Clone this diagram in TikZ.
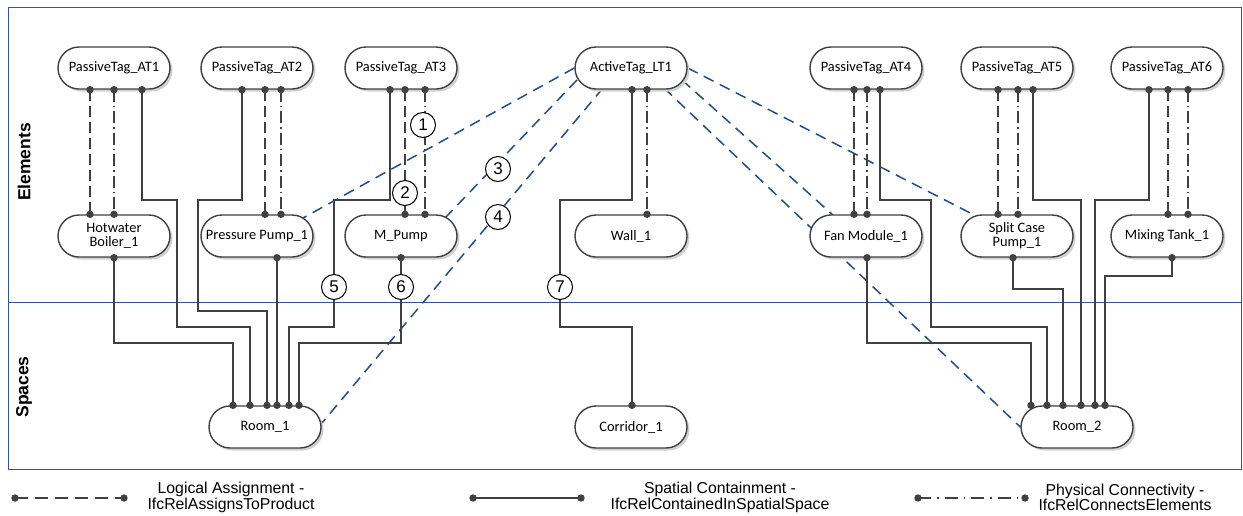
\documentclass[tikz,border=0pt]{standalone}
\usepackage{fontspec}
\setmainfont{Carlito}
\newfontfamily\arialf{Liberation Sans}
\usetikzlibrary{shapes.misc,shadows,calc}
\definecolor{frameblue}{RGB}{47,85,151}
\definecolor{linkblue}{RGB}{31,78,140}
\definecolor{lg}{RGB}{64,64,64}
\pgfdeclarelayer{bg}
\pgfsetlayers{bg,main}
\tikzset{
 elem/.style={rounded rectangle, draw=lg, line width=1.4pt, fill=white,
   minimum width=112pt, minimum height=42pt, inner sep=0pt, align=center,
   font=\fontsize{14.4}{14.2}\selectfont,
   drop shadow={shadow xshift=2.5pt, shadow yshift=-2.5pt, fill=black!18, opacity=1}},
 num/.style={circle, draw=black, line width=1pt, fill=white, minimum size=25pt,
   inner sep=0pt, font=\arialf\fontsize{17}{17}\selectfont},
 contain/.style={draw=lg, line width=1.7pt},
 assign/.style={draw=lg, line width=1.7pt, dash pattern=on 11pt off 5pt},
 connect/.style={draw=lg, line width=1.7pt, dash pattern=on 12pt off 4pt on 1.5pt off 4pt},
 logical/.style={draw=linkblue, line width=1.5pt, dash pattern=on 11pt off 7pt},
 lgtext/.style={font=\arialf\fontsize{15.8}{15.5}\selectfont, align=center},
 side/.style={font=\arialf\bfseries\fontsize{17.5}{18}\selectfont, rotate=90},
 framel/.style={draw=frameblue, line width=1pt},
}
\newcommand\wire[4]{\draw[#1] (#2) #3 (#4); \fill[lg] (#2) circle (3.7pt) (#4) circle (3.7pt);}
\begin{document}
\begin{tikzpicture}[x=1pt,y=-1pt]
\useasboundingbox (0,0) rectangle (1243,515);
% nodes
\node[elem] (AT1) at (114,68) {PassiveTag\_AT1};
\node[elem] (AT2) at (257,68) {PassiveTag\_AT2};
\node[elem] (AT3) at (401,68) {PassiveTag\_AT3};
\node[elem] (LT1) at (631,68) {ActiveTag\_LT1};
\node[elem] (AT4) at (866,68) {PassiveTag\_AT4};
\node[elem] (AT5) at (1017,68) {PassiveTag\_AT5};
\node[elem] (AT6) at (1167,68) {PassiveTag\_AT6};
\node[elem] (HB) at (114,236) {Hotwater\\Boiler\_1};
\node[elem] (PP1) at (257,236) {Pressure Pump\_1};
\node[elem] (MP) at (401,236) {M\_Pump};
\node[elem] (WL) at (631,236) {Wall\_1};
\node[elem] (FM) at (866,236) {Fan Module\_1};
\node[elem] (SCP) at (1017,236) {Split Case\\Pump\_1};
\node[elem] (MT) at (1167,236) {Mixing Tank\_1};
\node[elem] (R1) at (265,427) {Room\_1};
\node[elem] (CR) at (631,427) {Corridor\_1};
\node[elem] (R2) at (1077,427) {Room\_2};
\node[side] (EL) at (24,162) {Elements};
\node[side] (SP) at (24,387) {Spaces};
% frame and logical links behind nodes
\begin{pgfonlayer}{bg}
\draw[framel] (8,7) rectangle (1241,469);
\coordinate (DL) at (8,302);
\coordinate (DR) at (1241,302);
\draw[framel] (DL) -- (DR);
\draw[logical] (LT1.west) -- ($(PP1.center)+(46,-18)$);
\draw[logical] ($(LT1.center)+(-54,12)$) -- ($(MP.center)+(44,-18)$);
\draw[logical] ($(LT1.center)+(-28,20)$) -- ($(R1.center)+(57,-4)$);
\draw[logical] (LT1.east) -- ($(SCP.center)+(-39,-19)$);
\draw[logical] ($(LT1.center)+(51,12)$) -- ($(FM.center)+(-33,-21)$);
\draw[logical] ($(LT1.center)+(33,20)$) -- (R2.west);
\end{pgfonlayer}
% AT1 / Boiler
\wire{assign}{[xshift=-24pt]AT1.south}{--}{[xshift=-24pt]HB.north}
\wire{connect}{AT1.south}{--}{HB.north}
\wire{contain}{[xshift=28pt]AT1.south}{|- (177,200) |- (250,327) --}{[xshift=-15pt]R1.north}
\wire{contain}{HB.south}{|- (233,343) --}{[xshift=-32pt]R1.north}
% AT2 / Pressure pump
\wire{assign}{[xshift=8pt]AT2.south}{--}{[xshift=8pt]PP1.north}
\wire{connect}{[xshift=24pt]AT2.south}{--}{[xshift=24pt]PP1.north}
\wire{contain}{[xshift=-15pt]AT2.south}{|- (198,200) |- (267,311) --}{[xshift=2pt]R1.north}
\wire{contain}{[xshift=20pt]PP1.south}{--}{[xshift=12pt]R1.north}
% AT3 / M_Pump
\wire{assign}{[xshift=4pt]AT3.south}{--}{[xshift=4pt]MP.north}
\wire{connect}{[xshift=24pt]AT3.south}{--}{[xshift=24pt]MP.north}
\wire{contain}{[xshift=-11pt]AT3.south}{|- (334,200) |- (289,327) --}{[xshift=24pt]R1.north}
\wire{contain}{MP.south}{|- (299,343) --}{[xshift=34pt]R1.north}
% LT1 / Wall / Corridor
\wire{connect}{[xshift=16pt]LT1.south}{--}{[xshift=16pt]WL.north}
\wire{contain}{[xshift=1pt]LT1.south}{|- (560,200) |- (632,327) --}{[xshift=1pt]CR.north}
% AT4 / Fan module
\wire{assign}{[xshift=-12pt]AT4.south}{--}{[xshift=-12pt]FM.north}
\wire{connect}{[xshift=1pt]AT4.south}{--}{[xshift=1pt]FM.north}
\wire{contain}{[xshift=14pt]AT4.south}{|- (931,200) |- (1047,327) --}{[xshift=-30pt]R2.north}
\wire{contain}{[xshift=1pt]FM.south}{|- (1031,343) --}{[xshift=-46pt]R2.north}
% AT5 / Split case
\wire{assign}{[xshift=-19pt]AT5.south}{--}{[xshift=-19pt]SCP.north}
\wire{connect}{[xshift=1pt]AT5.south}{--}{[xshift=1pt]SCP.north}
\wire{contain}{[xshift=16pt]AT5.south}{|- (1081,200) --}{[xshift=4pt]R2.north}
\wire{contain}{[xshift=-4pt]SCP.south}{|- (1063,289) --}{[xshift=-14pt]R2.north}
% AT6 / Mixing tank
\wire{assign}{[xshift=1pt]AT6.south}{--}{[xshift=1pt]MT.north}
\wire{connect}{[xshift=21pt]AT6.south}{--}{[xshift=21pt]MT.north}
\wire{contain}{[xshift=-18pt]AT6.south}{|- (1095,200) --}{[xshift=18pt]R2.north}
\wire{contain}{[xshift=5pt]MT.south}{|- (1105,276) --}{[xshift=28pt]R2.north}
% numbered markers
\node[num] (n1) at (423,125) {1};
\node[num] (n2) at (405,193) {2};
\node[num] (n3) at (498,169) {3};
\node[num] (n4) at (498,217) {4};
\node[num] (n5) at (334,287) {5};
\node[num] (n6) at (401,287) {6};
\node[num] (n7) at (560,287) {7};
% legend
\coordinate (L1a) at (15,498); \coordinate (L1b) at (124,498);
\coordinate (L2a) at (473,498); \coordinate (L2b) at (581,498);
\coordinate (L3a) at (918,498); \coordinate (L3b) at (1025,498);
\wire{assign, dash pattern=on 13pt off 7pt}{L1a}{--}{L1b}
\wire{contain}{L2a}{--}{L2b}
\wire{connect, dash pattern=on 13pt off 6pt on 1.5pt off 6pt}{L3a}{--}{L3b}
\node[lgtext] (T1) at (231,497.5) {Logical Assignment -\\IfcRelAssignsToProduct};
\node[lgtext] (T2) at (720,497.5) {Spatial Containment -\\IfcRelContainedInSpatialSpace};
\node[lgtext] (T3) at (1125,497.5) {Physical Connectivity -\\IfcRelConnectsElements};
\end{tikzpicture}
\end{document}
